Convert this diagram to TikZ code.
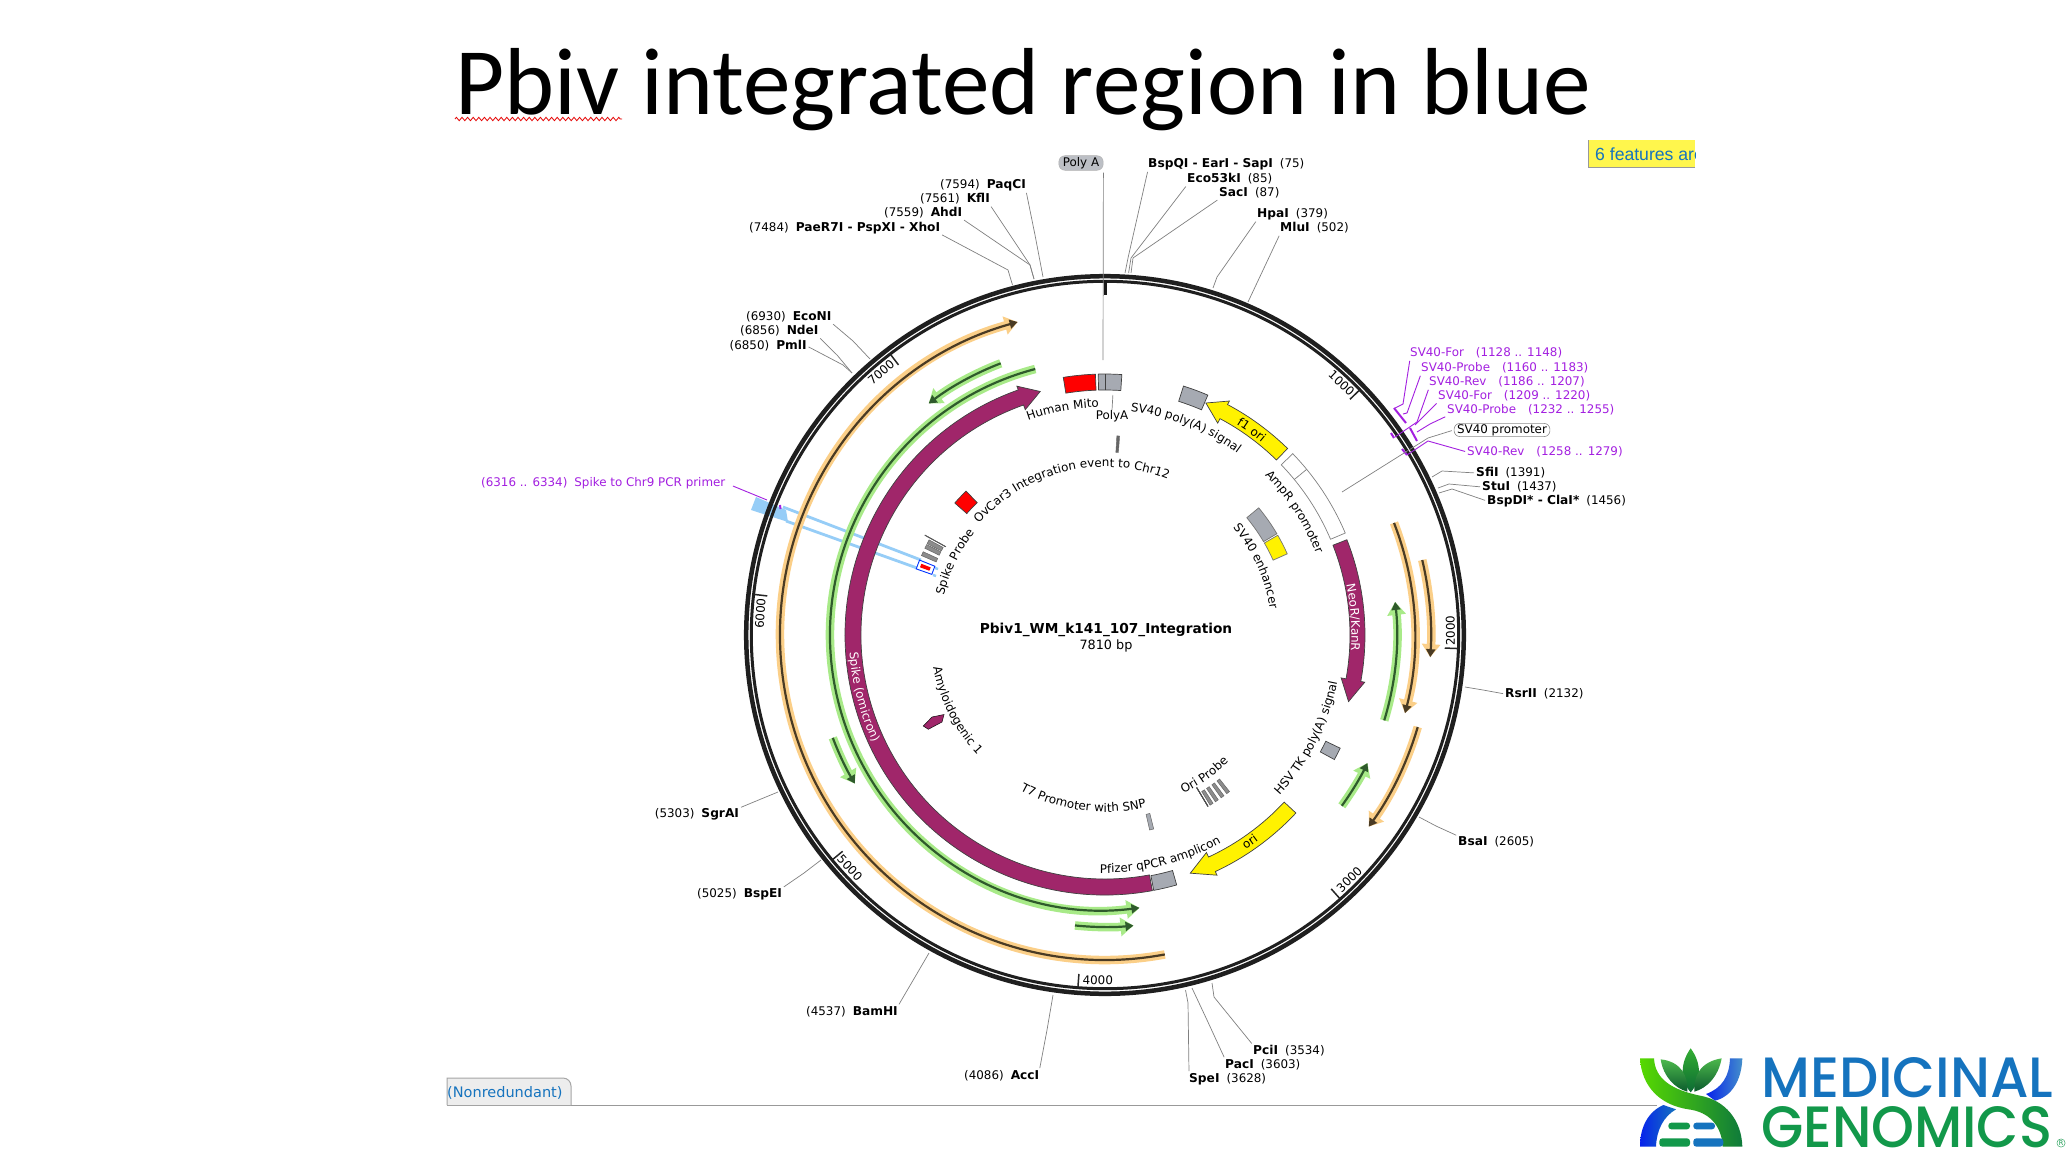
\documentclass[tikz,border=0pt]{standalone}
\usepackage{fontspec}
\setmainfont{DejaVu Sans}
\newfontfamily\titlefont{Carlito}
\newfontfamily\logofont{Poppins}[UprightFont=* Medium]
\newfontfamily\boxfont{Liberation Sans}
\usetikzlibrary{arrows.meta,decorations.text,decorations.pathmorphing}

\definecolor{plum}{HTML}{A0266A}
\definecolor{featgrey}{HTML}{A6AAB2}
\definecolor{halogreen}{HTML}{A8EA88}
\definecolor{coregreen}{HTML}{2F5A2C}
\definecolor{haloorange}{HTML}{FBCF88}
\definecolor{coreorange}{HTML}{4A3B24}
\definecolor{primerc}{HTML}{A31FE0}
\definecolor{intblue}{HTML}{96CDF7}
\definecolor{logoblue}{HTML}{1573BE}
\definecolor{logogreen}{HTML}{12984A}

\newcommand{\maplab}{\fontsize{11.9}{13}\selectfont}
\newcommand{\sitename}[1]{{\fontsize{12.2}{13}\selectfont\bfseries #1}}
% cw angles from the top of the map, radii in px
\newcommand{\featarc}[5]{\draw[#1] ({90-(#2)}:#5) arc[start angle={90-(#2)},end angle={90-(#3)},radius=#5] -- ({90-(#3)}:#4) arc[start angle={90-(#3)},end angle={90-(#2)},radius=#4] -- cycle;}
\newcommand{\featarrow}[6]{\draw[#1] ({90-(#2)}:#6) arc[start angle={90-(#2)},end angle={90-(#3)},radius=#6] -- ({90-(#3)}:{#6+4}) -- ({90-(#4)}:{(#5+#6)/2}) -- ({90-(#3)}:{#5-5}) -- ({90-(#3)}:#5) arc[start angle={90-(#3)},end angle={90-(#2)},radius=#5] -- cycle;}
\newcommand{\track}[5]{%
	\draw[#1, line width=8.5pt, -{Stealth[inset=0pt,length=13pt,width=18pt]}] ({90-(#3)}:#5) arc[start angle={90-(#3)},end angle={90-(#4)},radius=#5];
	\draw[#2, line width=2.2pt, -{Stealth[inset=0pt,length=8pt,width=9pt]}] ({90-(#3)}:#5) arc[start angle={90-(#3)},end angle={90-(#4)},radius=#5];}
\newcommand{\curvelab}[5]{\path[decorate,decoration={text along path,text align=center,text={|#1|#5}}] ({90-(#2-#3)}:#4) arc[start angle={90-(#2-#3)},end angle={90-(#2+#3)},radius=#4];}

\begin{document}
\begin{tikzpicture}[
	x=1pt, y=-1pt,
	>=Stealth,
	sitelab/.style={font=\maplab, inner sep=0pt, text height=9pt, text depth=2.5pt, yshift=-1pt},
	primlab/.style={sitelab, text=primerc},
	leader/.style={draw=black!50, line width=0.7pt, shorten <=2pt},
	primer/.style={draw=primerc, line width=0.9pt, shorten <=2pt},
	bar/.style={draw=primerc, line width=2pt},
	feat/.style={draw=black!75, line width=0.7pt}
	]
	\path[use as bounding box, fill=white] (0,0) rectangle (2072,1172);

	\node[font=\titlefont\fontsize{95.2}{100}\selectfont, anchor=base west, inner sep=0pt] (title) at (455.5,114) {Pbiv integrated region in blue};
	\draw[red!90!black, line width=0.8pt, decorate, decoration={zigzag,amplitude=1.7pt,segment length=5.6pt}] (455,119) -- (622,119);

	% integrated region, under everything else
	\fill[intblue] (756,497) -- (786,510) -- (788,522) -- (751,510) -- cycle;
	\draw[intblue, line width=2.8pt] (783,507) -- (921,560);
	\draw[intblue, line width=2.8pt] (786,521) -- (917,568);
	\draw[intblue, line width=2.4pt] (935,568) -- (938,569);
	\draw[intblue, line width=2.4pt] (933,575) -- (936,576);

	\begin{scope}[shift={(1105,635)},x=1pt,y=1pt]
		% tracks
		\track{haloorange}{coreorange}{169.4}{344.4}{325}
		\track{haloorange}{coreorange}{76.7}{93.9}{326}
		\track{haloorange}{coreorange}{68.8}{104.6}{310}
		\track{haloorange}{coreorange}{106.4}{126}{326}
		\track{halogreen}{coregreen}{345.3}{172.8}{275}
		\track{halogreen}{coregreen}{-21}{-37.3}{291}
		\track{halogreen}{coregreen}{-110.7}{-120.7}{291}
		\track{halogreen}{coregreen}{185.9}{174.4}{292}
		\track{halogreen}{coregreen}{107}{83.5}{292}
		\track{halogreen}{coregreen}{125.8}{116}{292}

		\draw[black!88, line width=4.5pt] (0,0) circle[radius=358.8];
		\draw[black!88, line width=3pt] (0,0) circle[radius=353.7];

		% ruler
		\draw[black!90, line width=3pt] (90:355) -- (90:340);
		\foreach \pos/\cw/\labcw/\rot in {1000/46.1/43.2/-43.2, 2000/92.2/89.3/90.7, 3000/138.3/135/45,
			4000/184.4/181.2/-1.2, 5000/230.5/227.6/-47.6, 6000/276.6/273.6/86.4, 7000/322.6/319.6/40.4}
		{
			\draw[black!85, line width=1.5pt] ({90-\cw}:353) -- ({90-\cw}:340);
			\node[font=\maplab, rotate=\rot, inner sep=0pt] (tick\pos) at ({90-\labcw}:345.5) {\pos};
		}

		% features on the 245-261 band
		\featarrow{feat, fill=plum}{169.5}{340.5}{345.1}{244}{260}
		\featarrow{feat, fill=plum}{68.5}{100.3}{105.3}{245}{260}
		\featarrow{feat, fill=yellow}{44.4}{28}{23.5}{245}{261}
		\featarrow{feat, fill=yellow}{133}{155}{160.3}{245}{261}
		\featarc{feat, fill=featgrey}{164}{169.2}{245}{260}
		\featarc{feat, fill=red}{-9.2}{-2.1}{245}{261}
		\featarc{feat, fill=featgrey}{-1.5}{3.7}{245}{261}
		\draw[black!75, line width=0.7pt] (90:245) -- (90:261);
		\featarc{feat, fill=featgrey}{17.5}{23.2}{245}{261}
		\featarc{draw=black!50, line width=0.7pt, fill=white}{46}{67}{245}{261}
		\draw[black!50, line width=0.7pt] ({90-50.6}:245) -- ({90-50.6}:261);
		\featarc{feat, fill=featgrey}{115.7}{118.5}{245}{261}

		% inner band
		\featarc{draw=black!55, line width=0.7pt, fill=featgrey}{50.4}{59.5}{184}{199.5}
		\featarc{draw=black!55, line width=0.7pt, fill=yellow}{60}{66}{184}{199.5}
		\featarc{feat, fill=red}{-48.7}{-44}{184}{200}
		\featarc{draw=black!60, line width=0.4pt, fill=black!60}{3.4}{4.2}{183}{199.5}
		\featarc{draw=black!60, line width=0.5pt, fill=featgrey}{165.9}{167.1}{184}{200}
		\featarc{draw=blue!80!cyan, line width=0.9pt, fill=white}{-70.7}{-68}{183.5}{200}
		\featarc{draw=none, fill=red}{-69.9}{-68.8}{187}{197}
		\foreach \cw in {-66,-63.7,-62.2}
			\featarc{draw=black!60, line width=0.5pt, fill=black!45}{\cw-0.6}{\cw+0.6}{184}{200}
		\draw[black!65, line width=0.7pt] ({90+61}:182) -- ({90+61}:206);
		\foreach \cw in {142,144,146,147.8}
			\featarc{draw=black!60, line width=0.5pt, fill=black!45}{\cw-0.5}{\cw+0.5}{184}{200}
		\draw[black!70, line width=0.8pt] ({90-149}:178) -- ({90-149}:200);

		% texts along the map
		\curvelab{\maplab}{-10.6}{40}{228}{Human Mito}
		\curvelab{\maplab}{21.3}{40}{225}{SV40 poly(A) signal}
		\curvelab{\maplab}{57}{40}{226}{AmpR promoter}
		\curvelab{\maplab}{65.5}{45}{167}{SV40 enhancer}
		\curvelab{\maplab}{-13.3}{60}{168}{OvCar3 Integration event to Chr12}
		\curvelab{\maplab}{-64}{40}{166}{Spike Probe}
		\curvelab{\maplab}{-117}{-45}{175}{Amyloidogenic 1}
		\curvelab{\maplab}{-172.4}{-45}{177}{T7 Promoter with SNP}
		\curvelab{\maplab}{166}{-40}{238}{Pfizer qPCR amplicon}
		\curvelab{\maplab}{117}{-40}{237}{HSV TK poly(A) signal}
		\curvelab{\maplab}{144.7}{-30}{177}{Ori Probe}
		\curvelab{\maplab}{35.6}{25}{248}{f1 ori}
		\curvelab{\maplab\color{white}}{86}{25}{246.5}{NeoR/KanR}
		\curvelab{\maplab}{145}{-25}{256.5}{ori}
		\curvelab{\maplab\color{white}}{-104.4}{-25}{256}{Spike (omicron)}

		\node[font=\fontsize{13.7}{15}\selectfont\bfseries, inner sep=0pt] (mapname) at (1,5) {Pbiv1\_WM\_k141\_107\_Integration};
		\node[font=\fontsize{12.8}{15}\selectfont, inner sep=0pt] (mapsize) at (1,-11) {7810 bp};
	\end{scope}

	\draw[draw=black!95, fill=plum, line width=0.5pt] (923.3,726) -- (928.3,729.3) -- (942,722) -- (944,714.5) -- (932,717) -- cycle;

	% restriction sites, position first
	\foreach \id/\x/\y/\site/\pos/\anc/\bx/\by/\ex/\ey in {
		paqci/940/184/PaqCI/7594/south east/1035/235/1043/277,
		kfli/920/198/KflI/7561/south east/1030/265/1034/279,
		ahdi/884/212/AhdI/7559/south east/1030/265/1034/279,
		xhoi/749/227/PaeR7I - PspXI - XhoI/7484/south east/1008/270/1012.5/285,
		econi/746/316/EcoNI/6930/south east/853/341/870/359,
		ndei/740/330/NdeI/6856/south east/837/355/852/373,
		pmli/729.5/345/PmlI/6850/east/843/365/852/373,
		sgrai/654.7/813/SgrAI/5303/north east/761/799/778/792,
		bspei/697/893/BspEI/5025/north east/804/873/821/860,
		bamhi/806/1011/BamHI/4537/north east/915/977/929/953,
		acci/964/1075/AccI/4086/north east/1047/1030/1053/995}
	{
		\node[sitelab, anchor=west] (\id) at (\x,\y) {(\pos)\hspace{7pt}\sitename{\site}};
		\coordinate (\id bend) at (\bx,\by);
		\coordinate (\id end) at (\ex,\ey);
		\draw[leader] (\id.\anc) -- (\id bend) -- (\id end);
	}
	% restriction sites, name first
	\foreach \id/\x/\y/\site/\pos/\anc/\bx/\by/\ex/\ey in {
		sapi/1148/163/BspQI - EarI - SapI/75/south west/1128/258/1125/273,
		ecok/1187/178/Eco53kI/85/south west/1131/258/1128.6/273,
		saci/1219/192/SacI/87/south west/1133/258/1131/273,
		hpai/1257/213/HpaI/379/south west/1217/277/1213/288,
		mlui/1280/227/MluI/502/south west/1264/268/1248/302,
		sfii/1476/472/SfiI/1391/west/1442/471/1432/477,
		stui/1482/486/StuI/1437/west/1449/484/1438/488,
		clai/1487/500/BspDI* - ClaI*/1456/west/1452/489/1439/493,
		rsrii/1505/693/RsrII/2132/west/1483/690/1465/687,
		bsai/1458/841/BsaI/2605/north west/1436/826/1419/817,
		pcii/1253/1050/PciI/3534/north west/1214/997/1212/983,
		paci/1225/1064/PacI/3603/north west/1207/1020/1192/988,
		spei/1189/1078/SpeI/3628/north west/1188/1003/1185.5/990}
	{
		\node[sitelab, anchor=west] (\id) at (\x,\y) {\sitename{\site}\hspace{7pt}(\pos)};
		\coordinate (\id bend) at (\bx,\by);
		\coordinate (\id end) at (\ex,\ey);
		\draw[leader] (\id.\anc) -- (\id bend) -- (\id end);
	}

	% primers
	\draw[bar] (1394,408) -- (1406,423);
	\draw[bar] (1391,433) -- (1394,438);
	\draw[bar] (1410,428) -- (1417,441);
	\draw[bar] (1402,449) -- (1407,455);
	\foreach \id/\x/\y/\txt/\anc/\bx/\by/\ex/\ey in {
		fora/1410/352/SV40-For\hspace{12pt}(1128 .. 1148)/south west/1403/404/1395/408,
		proa/1421/367/SV40-Probe\hspace{12pt}(1160 .. 1183)/south west/1407/413/1403/414,
		reva/1429/381/SV40-Rev\hspace{12pt}(1186 .. 1207)/south west/1417/422/1395/437,
		forb/1438/395/SV40-For\hspace{12pt}(1209 .. 1220)/south west/1424/416/1415/425,
		prob/1447/409/SV40-Probe\hspace{12pt}(1232 .. 1255)/south west/1430/424/1417/432,
		revb/1467/451/SV40-Rev\hspace{12pt}(1258 .. 1279)/west/1428/441/1407/455}
	{
		\node[primlab, anchor=west] (\id) at (\x,\y) {\txt};
		\coordinate (\id bend) at (\bx,\by);
		\coordinate (\id end) at (\ex,\ey);
		\draw[primer] (\id.\anc) -- (\id bend) -- (\id end);
	}
	\node[primlab, anchor=west] (chrix) at (481,482) {(6316 .. 6334)\hspace{7pt}Spike to Chr9 PCR primer};
	\coordinate (chrixend) at (767,500);
	\draw[primer, shorten <=8pt] (chrix.east) -- (chrixend);
	\draw[bar] (780,505) -- (780.5,509);

	% pills
	\node[font=\maplab, fill=featgrey!75, draw=black!30, rounded corners=6pt, inner xsep=4pt, inner ysep=1.5pt, line width=0.5pt] (polyapill) at (1081,163) {Poly A};
	\coordinate (polyaend) at (1103,360);
	\draw[leader] (polyapill.south east) -- (polyaend);
	\node[font=\maplab, fill=white, draw=black!45, rounded corners=6pt, inner xsep=3pt, inner ysep=1pt, line width=0.6pt] (promoter) at (1502,430) {SV40 promoter};
	\coordinate (promoterbend) at (1428,438);
	\coordinate (promoterend) at (1342,492);
	\draw[leader] (promoter.west) -- (promoterbend) -- (promoterend);
	\node[font=\maplab, inner sep=0pt] (polya) at (1112,416) {PolyA};
	\coordinate (polyatop) at (1113,393);
	\draw[leader] (polyatop) -- (polya.north);

	% features box, cut off at the right
	\begin{scope}
		\clip (1588,140) rectangle (1695,167);
		\fill[yellow!70!white] (1588,140) rectangle (1695,167);
		\node[font=\boxfont\fontsize{17.6}{20}\selectfont, text=logoblue, anchor=west, inner sep=0pt] (featbox) at (1595,154) {6 features are};
		\draw[black!40, line width=1pt] (1588,167) -- (1588,140) (1588,167) -- (1695,167);
	\end{scope}

	% tab and rule at the bottom
	\draw[black!40, line width=1pt] (447,1105) -- (1657,1105);
	\draw[black!35, fill=black!7, line width=1pt] (447,1105) -- (447,1078) -- (563,1078) to[out=0,in=90] (571,1086) -- (571,1105);
	\node[font=\fontsize{14.5}{16}\selectfont, text=logoblue, anchor=west, inner sep=0pt] (nonred) at (447,1093) {(Nonredundant)};

	% logo
	\begin{scope}[shift={(1600,1030)},x=0.3333pt,y=-0.3333pt]
		\shade[left color=blue!70!logoblue, right color=logoblue!80] (390,85) -- (427,85) .. controls (425,150) and (395,200) .. (345,212) -- (318,192) .. controls (365,175) and (388,140) .. (390,85) -- cycle;
		\shade[left color=blue!70!logoblue, right color=logoblue] (120,350) .. controls (120,290) and (145,245) .. (190,225) -- (228,238) .. controls (190,260) and (170,300) .. (168,350) -- cycle;
		\shade[left color=green!60!yellow!85!black, right color=logogreen!80!black] (120,85) -- (162,85) .. controls (165,150) and (220,180) .. (300,197) .. controls (375,210) and (425,270) .. (427,350) -- (368,350) .. controls (365,285) and (325,245) .. (265,238) .. controls (180,225) and (125,170) .. (120,85) -- cycle;
		\shade[top color=green!60!black!80, bottom color=logogreen!70!black] (272,55) .. controls (305,100) and (305,150) .. (272,187) .. controls (240,150) and (240,100) .. (272,55) -- cycle;
		\shade[top color=green!60!black!70, bottom color=logogreen!60!black] (182,88) .. controls (245,95) and (265,140) .. (262,185) .. controls (225,175) and (190,140) .. (182,88) -- cycle;
		\shade[top color=green!60!black!70, bottom color=logogreen!60!black] (365,85) .. controls (300,95) and (280,140) .. (283,185) .. controls (320,175) and (355,140) .. (365,85) -- cycle;
		\fill[logogreen, rounded corners=3pt] (205,278) rectangle (270,298);
		\fill[logoblue, rounded corners=3pt] (280,278) rectangle (345,298);
		\fill[logogreen, rounded corners=3pt] (178,325) rectangle (270,350);
		\fill[logoblue, rounded corners=3pt] (280,325) rectangle (370,350);
	\end{scope}
	\node[anchor=south west, inner sep=0pt, text=logoblue] (medicinal) at (1761,1098) {\resizebox{292pt}{40pt}{\logofont MEDICINAL}};
	\node[anchor=south west, inner sep=0pt, text=logogreen] (genomics) at (1761,1148) {\resizebox{291pt}{41pt}{\logofont GENOMICS}};
	\node[draw=logogreen, circle, inner sep=0.6pt, line width=0.4pt, text=logogreen, font=\fontsize{6.5}{6.5}\selectfont] (regmark) at (2061,1143) {R};
\end{tikzpicture}
\end{document}
